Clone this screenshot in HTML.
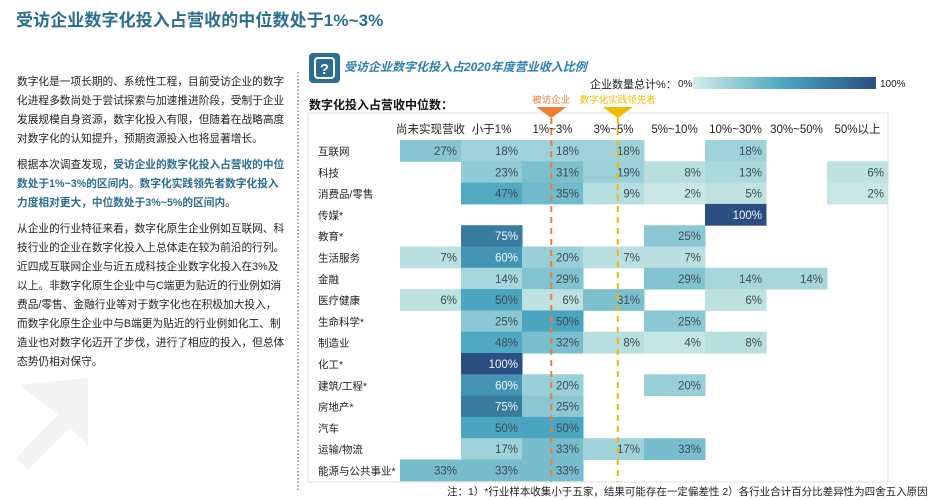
<!DOCTYPE html>
<html><head><meta charset="utf-8">
<style>
body{margin:0;width:945px;height:500px;background:#fff;font-family:"Liberation Sans","Noto Sans CJK SC",sans-serif;position:relative;overflow:hidden}
.abs{position:absolute}
#title{left:16px;top:6px;font-size:17px;font-weight:bold;color:#2c6d92;letter-spacing:0.1px}
#left{left:17px;top:73px;width:270px;font-size:10.7px;line-height:19px;color:#222}
#left p{margin:0 0 7px 0}
.hl{color:#2c6d92;font-weight:bold}
</style></head><body>
<svg class="abs" style="left:0;top:0" width="945" height="500" id="chart">
<defs><linearGradient id="lg" x1="0" x2="1"><stop offset="0" stop-color="#d3ece8"/><stop offset="0.5" stop-color="#4aa6c0"/><stop offset="1" stop-color="#2a4f80"/></linearGradient></defs>
<g fill="#f3f3f3">
<polygon points="20,385 88,378 88,445 70,428 28,470 16,458 58,415"/>
</g>
<line x1="298" y1="72" x2="298" y2="490" stroke="#444" stroke-dasharray="1.5,2"/>
<rect x="309" y="53" width="31" height="30" rx="4" fill="#2c6d92"/>
<rect x="315" y="58" width="19" height="20" rx="3" fill="none" stroke="#fff" stroke-width="2"/>
<text x="324.5" y="74" text-anchor="middle" font-size="15" font-weight="bold" fill="#fff">?</text>
<text x="344" y="71" font-size="12" font-style="italic" font-weight="bold" fill="#2c7eb0">受访企业数字化投入占2020年度营业收入比例</text>
<text x="590" y="88" font-size="11" fill="#222">企业数量总计%：</text>
<text x="678" y="87" font-size="10" fill="#222">0%</text>
<rect x="693" y="77" width="183" height="12" fill="url(#lg)"/>
<text x="880" y="87" font-size="10" fill="#222">100%</text>
<text x="309" y="109" font-size="12" font-weight="bold" fill="#111">数字化投入占营收中位数：</text>
<rect x="308" y="113" width="580" height="369" fill="none" stroke="#e2e2e2"/>
<g id="cells"></g>
</svg>
<div id="title" class="abs">受访企业数字化投入占营收的中位数处于1%~3%</div>
<div id="left" class="abs">
<p>数字化是一项长期的、系统性工程，目前受访企业的数字化进程多数尚处于尝试探索与加速推进阶段，受制于企业发展规模自身资源，数字化投入有限，但随着在战略高度对数字化的认知提升，预期资源投入也将显著增长。</p>
<p>根据本次调查发现，<span class="hl">受访企业的数字化投入占营收的中位数处于1%~3%的区间内。数字化实践领先者数字化投入力度相对更大，中位数处于3%~5%的区间内</span>。</p>
<p>从企业的行业特征来看，数字化原生企业例如互联网、科技行业的企业在数字化投入上总体走在较为前沿的行列。近四成互联网企业与近五成科技企业数字化投入在3%及以上。非数字化原生企业中与C端更为贴近的行业例如消费品/零售、金融行业等对于数字化也在积极加大投入，而数字化原生企业中与B端更为贴近的行业例如化工、制造业也对数字化迈开了步伐，进行了相应的投入，但总体态势仍相对保守。</p>
</div>
<div class="abs" style="left:447px;top:484px;font-size:10.5px;color:#222">注：1）*行业样本收集小于五家，结果可能存在一定偏差性 2）各行业合计百分比差异性为四舍五入原因</div>
<script>
const columns=["尚未实现营收","小于1%","1%~3%","3%~5%","5%~10%","10%~30%","30%~50%","50%以上"];
const industries=["互联网","科技","消费品/零售","传媒*","教育*","生活服务","金融","医疗健康","生命科学*","制造业","化工*","建筑/工程*","房地产*","汽车","运输/物流","能源与公共事业*"];
const v_internet=[27,18,18,18,null,18,null,null];
const v_tech=[null,23,31,19,8,13,null,6];
const v_consumer=[null,47,35,9,2,5,null,2];
const v_media=[null,null,null,null,null,100,null,null];
const v_edu=[null,75,null,null,25,null,null,null];
const v_life=[7,60,20,7,7,null,null,null];
const v_fin=[null,14,29,null,29,14,14,null];
const v_health=[6,50,6,31,null,6,null,null];
const v_bio=[null,25,50,null,25,null,null,null];
const v_mfg=[null,48,32,8,4,8,null,null];
const v_chem=[null,100,null,null,null,null,null,null];
const v_constr=[null,60,20,null,20,null,null,null];
const v_estate=[null,75,25,null,null,null,null,null];
const v_auto=[null,50,50,null,null,null,null,null];
const v_logi=[null,17,33,17,33,null,null,null];
const v_energy=[33,33,33,null,null,null,null,null];
const values=[v_internet,v_tech,v_consumer,v_media,v_edu,v_life,v_fin,v_health,v_bio,v_mfg,v_chem,v_constr,v_estate,v_auto,v_logi,v_energy];
const markerCols=[{label:"被访企业",col:2,frac:0.48,color:"#ee7d33"},{label:"数字化实践领先者",col:3,frac:0.57,color:"#f5b800"}];

const X0=400,CW=61,Y0=140,RH=21.3;
const xPos=i=>X0+i*CW;
const yPos=j=>Y0+j*RH;
function lerp(a,b,t){return a.map((x,i)=>Math.round(x+(b[i]-x)*t));}
function color(v){const t=v/100;const c0=[205,234,230],c1=[74,166,192],c2=[42,79,128];
 const c=t<0.5?lerp(c0,c1,t/0.5):lerp(c1,c2,(t-0.5)/0.5);return `rgb(${c[0]},${c[1]},${c[2]})`;}
const NS="http://www.w3.org/2000/svg";
const g=document.getElementById('cells');
function mk(tag,attrs,txt){const e=document.createElementNS(NS,tag);for(const k in attrs)e.setAttribute(k,attrs[k]);if(txt!==undefined)e.textContent=txt;g.appendChild(e);return e;}
columns.forEach((c,i)=>{
 const t=mk('text',{x:xPos(i)+CW/2,y:133,'text-anchor':'middle','font-size':11.5,fill:'#222'},c);
 
 
});
industries.forEach((ind,j)=>{
 const t=mk('text',{x:318,y:yPos(j)+15,'font-size':10.5,fill:'#222'},ind);
 
 
 values[j].forEach((v,i)=>{
  if(v===null)return;
  const r=mk('rect',{x:xPos(i),y:yPos(j),width:CW+0.5,height:RH+0.5,fill:color(v)});
  
  
  const tx=mk('text',{x:xPos(i)+CW-4,y:yPos(j)+15,'text-anchor':'end','font-size':11.5,fill:v>=55?'#eef6fa':'#3d4a52'},v+'%');
  
  
 });
});
markerCols.forEach(m=>{
 const x=xPos(m.col)+CW*m.frac;
 const l=mk('line',{x1:x,y1:118,x2:x,y2:482,stroke:m.color,'stroke-width':2,'stroke-dasharray':'6,5'});
 
 
 const p=mk('polygon',{points:`${x-15},107 ${x+15},107 ${x},118`,fill:m.color});
 
 
 const t=mk('text',{x:x,y:103,'text-anchor':'middle','font-size':9.5,fill:m.color},m.label);
 
 
});
</script>
</body></html>
